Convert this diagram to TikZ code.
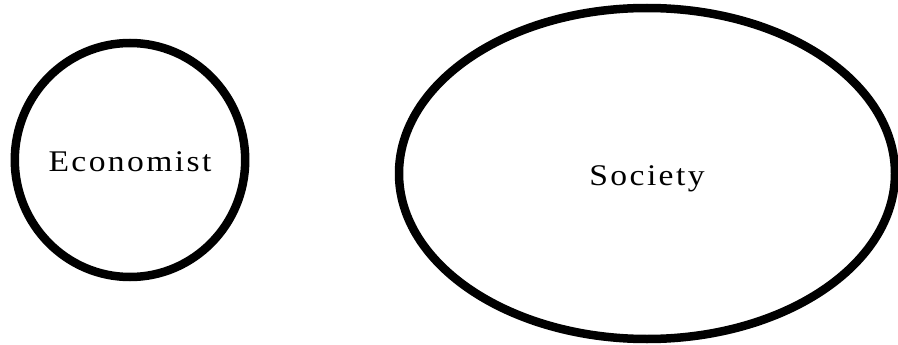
\documentclass[tikz,border=0pt]{standalone}
\usepackage{fontspec}
\setmainfont{Liberation Serif}[FakeStretch=1.12, LetterSpace=8]
\usetikzlibrary{shapes.geometric}

\tikzset{party/.style={ellipse, draw, line width=8.5pt, inner sep=0pt,
    text height=23pt, text depth=0pt, font=\fontsize{30}{32}\selectfont}}

\begin{document}
\begin{tikzpicture}[x=1pt, y=-1pt]
  \useasboundingbox (0,0) rectangle (898,345);
  \node[party, minimum width=228pt, minimum height=234pt] (econ) at (130,160) {Economist};
  \node[party, minimum width=496pt, minimum height=331pt] (soc) at (647,173.5) {Society};
\end{tikzpicture}
\end{document}
